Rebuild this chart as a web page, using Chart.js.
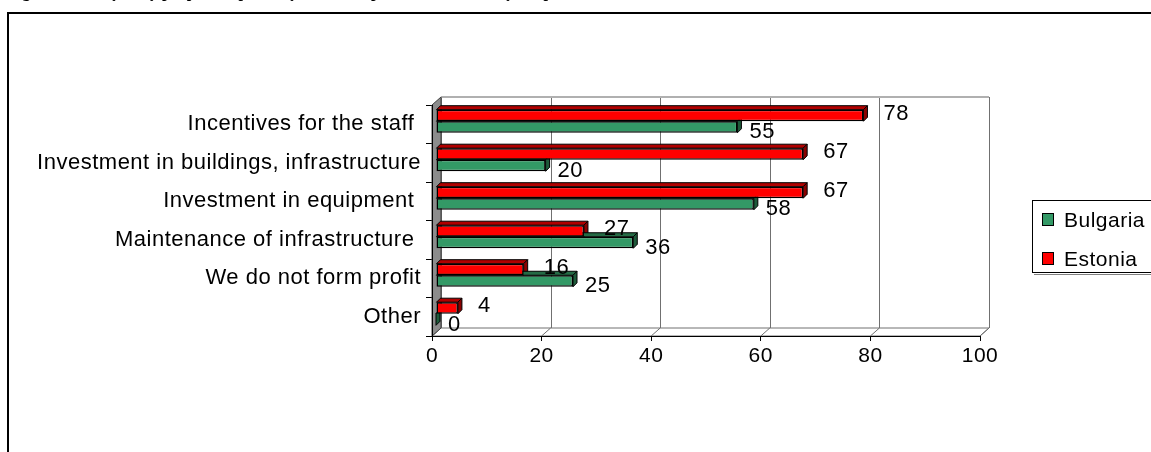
<!DOCTYPE html>
<html>
<head>
<meta charset="utf-8">
<script src="https://cdn.jsdelivr.net/npm/chart.js@4"></script>
<style>
  html, body { margin: 0; padding: 0; background: #fff; overflow: hidden; }
  #title {
    position: absolute; left: 8px; top: -17px; z-index: 2;
    font: bold 16px "Liberation Serif", "Times New Roman", serif;
    line-height: 18px;
    white-space: nowrap;
  }
  #frame {
    position: absolute; left: 7px; top: 12px; width: 1300px; height: 600px;
    border: 2px solid #000;
  }
  #chart { position: absolute; left: 0; top: 0; }
</style>
</head>
<body>
<div id="frame"></div>
<canvas id="chart" width="1151" height="452"></canvas>
<div id="title">Figure 11. Analysis by purpose of profit by the use of profit, distributed by the profit</div>
<script>
// Categories and values
const categories = [
    'Incentives for the staff ',
    'Investment in buildings, infrastructure',
    'Investment in equipment ',
    'Maintenance of infrastructure ',
    'We do not form profit',
    'Other'
];
const bulgaria = [55, 20, 58, 36, 25, 0];
const estonia = [78, 67, 67, 27, 16, 4];
const xTicks = [0, 20, 40, 60, 80, 100];

const FONT = '"Liberation Sans", Arial, sans-serif';

// 3D look
const WALL_X = 9, WALL_Y = -8;   // back wall offset
const SHIFT_X = 4, SHIFT_Y = -3; // bars sit slightly behind the front plane
const DEPTH = 4;                 // bar side depth

function poly(ctx, pts, fill, stroke) {
    ctx.beginPath();
    ctx.moveTo(pts[0][0], pts[0][1]);
    for (let i = 1; i < pts.length; i++) ctx.lineTo(pts[i][0], pts[i][1]);
    ctx.closePath();
    if (fill) { ctx.fillStyle = fill; ctx.fill(); }
    if (stroke) { ctx.strokeStyle = stroke; ctx.stroke(); }
}

const sideColors = ['#8a0000', '#1d5a3a'];
const topColors = ['#b00000', '#246b45'];

// the original text is a bit wide, spread the letters a little
const spacing = {
    id: 'spacing',
    beforeLayout(chart) { chart.ctx.letterSpacing = '0.5px'; },
    beforeDraw(chart) { chart.ctx.letterSpacing = '0.5px'; }
};

const threeD = {
    id: 'threeD',
    beforeDatasetsDraw(chart) {
        const { ctx, chartArea: a, scales: { x } } = chart;
        ctx.save();
        ctx.lineWidth = 1;

        // back wall gridlines
        ctx.strokeStyle = '#707070';
        xTicks.forEach(v => {
            const px = Math.round(x.getPixelForValue(v) + WALL_X) + 0.5;
            ctx.beginPath();
            ctx.moveTo(px, a.top + WALL_Y);
            ctx.lineTo(px, a.bottom + WALL_Y);
            ctx.stroke();
        });
        // back wall top edge
        ctx.strokeStyle = '#b0b0b0';
        ctx.lineWidth = 2;
        ctx.beginPath();
        ctx.moveTo(a.left + WALL_X, a.top + WALL_Y);
        ctx.lineTo(a.right + WALL_X, a.top + WALL_Y);
        ctx.stroke();
        ctx.lineWidth = 1;

        // floor
        poly(ctx, [[a.left, a.bottom], [a.left + WALL_X, a.bottom + WALL_Y],
            [a.right + WALL_X, a.bottom + WALL_Y], [a.right, a.bottom]], '#ffffff', '#707070');
        ctx.strokeStyle = '#707070';
        xTicks.forEach(v => {
            const px = x.getPixelForValue(v);
            ctx.beginPath();
            ctx.moveTo(px, a.bottom);
            ctx.lineTo(px + WALL_X, a.bottom + WALL_Y);
            ctx.stroke();
        });
        ctx.strokeStyle = '#000';
        ctx.beginPath();
        ctx.moveTo(a.left, a.bottom + 0.5);
        ctx.lineTo(a.right, a.bottom + 0.5);
        ctx.stroke();

        // left side wall
        poly(ctx, [[a.left, a.top], [a.left + WALL_X, a.top + WALL_Y],
            [a.left + WALL_X, a.bottom + WALL_Y], [a.left, a.bottom]], '#8c8c8c', '#404040');
        ctx.strokeStyle = '#000';
        ctx.beginPath();
        ctx.moveTo(a.left + 0.5, a.top);
        ctx.lineTo(a.left + 0.5, a.bottom);
        ctx.stroke();

        // bar tops and right sides, drawn before Chart.js paints the fronts
        ctx.translate(SHIFT_X, SHIFT_Y);
        chart.data.datasets.forEach((ds, di) => {
            chart.getDatasetMeta(di).data.forEach(bar => {
                const t = bar.y - bar.height / 2, b = bar.y + bar.height / 2;
                const s = bar.base, e = bar.x;
                poly(ctx, [[s, t], [e, t], [e + DEPTH, t - DEPTH], [s + DEPTH, t - DEPTH]], topColors[di], '#000');
                poly(ctx, [[e, t], [e + DEPTH, t - DEPTH], [e + DEPTH, b - DEPTH], [e, b]], sideColors[di], '#000');
            });
        });
        // translation stays for the datasets, restored in afterDatasetsDraw
    },
    afterDatasetsDraw(chart) {
        const { ctx } = chart;
        ctx.font = '22px ' + FONT;
        ctx.fillStyle = '#000';
        ctx.textAlign = 'left';
        ctx.textBaseline = 'middle';
        chart.data.datasets.forEach((ds, di) => {
            chart.getDatasetMeta(di).data.forEach((bar, i) => {
                const dx = di === 0 ? 16 : 8;
                const dy = di === 0 ? -2 : 5;
                ctx.fillText(String(ds.data[i]), bar.x + DEPTH + dx, bar.y + dy);
            });
        });
        ctx.restore();
    },
    afterDraw(chart) {
        const { ctx } = chart;
        ctx.save();
        // legend box
        ctx.fillStyle = '#fff';
        ctx.fillRect(1032, 200, 140, 73);
        ctx.strokeStyle = '#000';
        ctx.lineWidth = 1;
        ctx.strokeRect(1032.5, 200.5, 140, 72);
        ctx.strokeStyle = '#808080';
        ctx.beginPath();
        ctx.moveTo(1034, 274.5);
        ctx.lineTo(1151, 274.5);
        ctx.stroke();

        ctx.font = '21px ' + FONT;
        ctx.textBaseline = 'alphabetic';
        ctx.textAlign = 'left';
        // Bulgaria first, as in the original legend
        const order = [1, 0];
        order.forEach((di, k) => {
            const ds = chart.data.datasets[di];
            const y = 213 + k * 39;
            ctx.fillStyle = ds.backgroundColor;
            ctx.fillRect(1042, y, 11, 12);
            ctx.strokeStyle = '#000';
            ctx.strokeRect(1042.5, y + 0.5, 11, 12);
            ctx.fillStyle = '#000';
            ctx.fillText(ds.label, 1064, y + 14);
        });
        ctx.restore();
    }
};

const ctx = document.getElementById('chart').getContext('2d');
const chart = new Chart(ctx, {
    type: 'bar',
    data: {
        labels: categories,
        datasets: [
            {
                label: 'Estonia',
                data: estonia,
                backgroundColor: '#ff0000',
                borderColor: '#000',
                borderWidth: 1.5,
                borderSkipped: false
            },
            {
                label: 'Bulgaria',
                data: bulgaria,
                backgroundColor: '#339966',
                borderColor: '#000',
                borderWidth: 1.5,
                borderSkipped: false
            }
        ]
    },
    options: {
        indexAxis: 'y',
        responsive: false,
        animation: false,
        devicePixelRatio: 1,
        clip: false,
        barPercentage: 1.0,
        categoryPercentage: 0.6,
        layout: { padding: { left: 0, top: 105, right: 171, bottom: 0 } },
        plugins: {
            legend: { display: false },
            tooltip: { enabled: false }
        },
        scales: {
            x: {
                min: xTicks[0],
                max: xTicks[xTicks.length - 1],
                ticks: {
                    stepSize: 20,
                    color: '#000',
                    padding: 3,
                    font: { family: FONT, size: 21 }
                },
                grid: { drawOnChartArea: false, tickLength: 5, color: '#000' },
                border: { display: true, color: '#000' },
                afterFit(scale) { scale.height = 116; }
            },
            y: {
                ticks: {
                    color: '#000',
                    padding: 5,
                    autoSkip: false,
                    font: { family: FONT, size: 22 }
                },
                grid: { drawOnChartArea: false, tickLength: 6, color: '#000' },
                border: { display: true, color: '#000' },
                afterFit(scale) { scale.width = 432; }
            }
        }
    },
    plugins: [spacing, threeD]
});
</script>
</body>
</html>
